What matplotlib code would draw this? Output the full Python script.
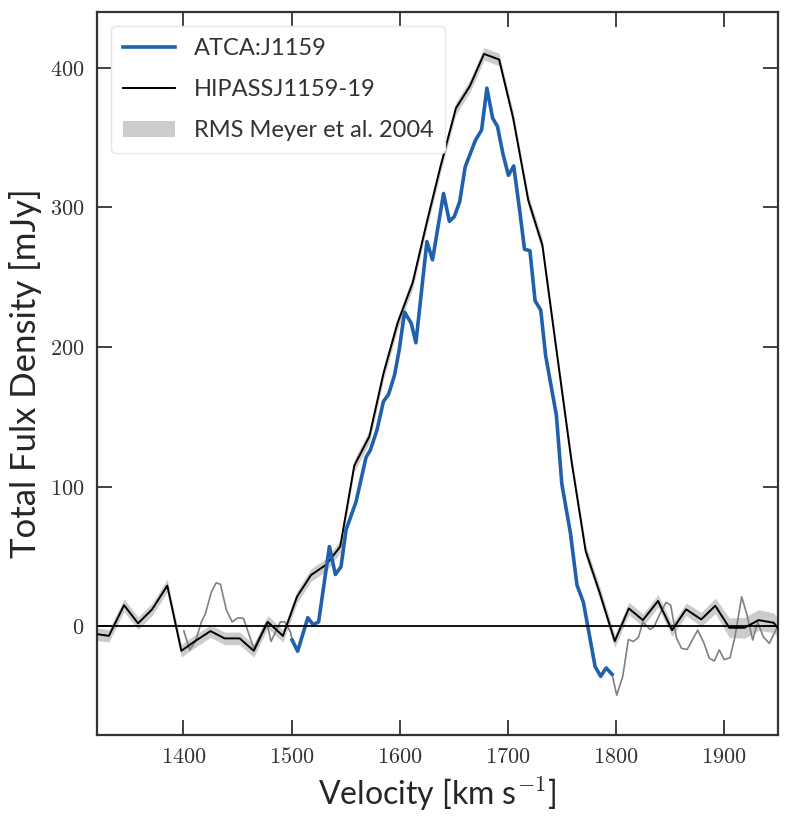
import matplotlib
matplotlib.use('Agg')
import matplotlib.pyplot as plt
import numpy as np

# HIPASS J1159-19 spectrum (velocity km/s, flux mJy)
hipass_vel = [1318, 1331, 1345, 1358, 1371, 1385, 1398, 1411, 1425, 1438,
              1452, 1465, 1478, 1492, 1505, 1518, 1532, 1545, 1558, 1572,
              1585, 1598, 1612, 1625, 1638, 1652, 1665, 1678, 1692, 1705,
              1719, 1732, 1745, 1759, 1772, 1785, 1799, 1812, 1825, 1839,
              1852, 1865, 1879, 1892, 1905, 1919, 1932, 1946, 1959]
hipass_flux = [-5.5, -7, 15, 2, 12, 29, -17.7, -10.6, -3.6, -8.8,
               -8.8, -17.7, 3, -7, 21, 36.6, 44, 57, 115, 136,
               181, 217, 246, 289, 330, 371, 387, 410, 406, 364,
               305, 273, 198, 118, 54, 24, -10.8, 12.7, 4.3, 18,
               -2.9, 12, 4.8, 14.6, -1.2, -1.2, 4.3, 2.4, -10]
hipass_rms = [4.5, 4.5, 4.5, 4.5, 4.5, 4.5, 4.5, 4.5, 4.5, 4.5,
              4.5, 4.5, 4.5, 4.5, 4.5, 4.5, 4.5, 4.5, 4.5, 4.5,
              4.5, 4.5, 4.5, 4.5, 4.5, 4.5, 4.5, 4.5, 4.5, 4.5,
              4.5, 4.5, 4.5, 4.5, 4.5, 4.5, 4.5, 4.5, 4.5, 4.5,
              4.5, 4.5, 5, 5.5, 7, 7.5, 7.5, 7, 6]

# ATCA J1159 spectrum inside the emission window
atca_vel = [1500.5, 1505.6, 1515, 1520, 1525, 1535, 1540.5, 1545.7, 1550.4,
            1559.6, 1568.9, 1572.8, 1579, 1585, 1589.7, 1595.3, 1599.6,
            1604.5, 1610.7, 1615, 1625.2, 1630.4, 1640.6, 1646, 1650.5,
            1655.5, 1660.6, 1670, 1675.8, 1680.7, 1686, 1690.5, 1695.5,
            1700.6, 1705.5, 1711, 1715.5, 1720.5, 1725.3, 1730.5, 1735,
            1745, 1750, 1758, 1764, 1770, 1780.8, 1786, 1791, 1796.5]
atca_flux = [-10, -18, 6, 1, 3, 57, 37, 42.5, 69,
             89, 121, 126, 140.5, 161, 166, 180, 198,
             225, 217, 203, 275.5, 262.4, 310, 290, 293.4,
             304, 329, 348, 355.5, 385.5, 364, 358, 338.5,
             323, 329.7, 298, 270, 269, 233, 226.5, 194,
             151, 102, 66.5, 29.5, 17, -29, -36, -30, -34.5]

# ATCA outside the emission window (grey)
atca_lo_vel = [1400.3, 1405.8, 1411, 1416.6, 1420.3, 1425.9, 1430.2, 1434.2,
               1439.7, 1445, 1450.5, 1455.5, 1465, 1477, 1481, 1489.6,
               1493.6, 1498.9, 1500.5]
atca_lo_flux = [-3.4, -17, -11, 3, 9, 24.6, 31, 30,
                11.5, 3, 6, 5.5, -16, 3, -11, 3,
                3, -4, -10]
atca_hi_vel = [1796.5, 1800.8, 1806.4, 1811.6, 1816.2, 1820.9, 1825, 1831.6,
               1835.3, 1840.9, 1846.4, 1850.7, 1856.3, 1860.9, 1866, 1870.7,
               1875.7, 1880.9, 1886.5, 1891.1, 1895.7, 1900.3, 1905.6, 1910.2,
               1916.4, 1921, 1926.6, 1931.2, 1936.4, 1942, 1947.2, 1952]
atca_hi_flux = [-34.5, -49.5, -36, -9.6, -11, -8, 3, -2.4,
                -0.5, 9, 17, 15, -9, -16, -16.7, -10,
                -2.9, -11, -23, -25, -17, -24, -22.7, -7.6,
                21, 9, -10, 3, -7.6, -12.4, -4, 3]

plt.rcParams['mathtext.fontset'] = 'cm'
plt.rcParams['font.family'] = ['Lato', 'DejaVu Sans']

fig = plt.figure(figsize=(7.9, 8.3), dpi=100)
ax = fig.add_axes([0.1228, 0.1145, 0.862, 0.871])

hv = np.array(hipass_vel)
hf = np.array(hipass_flux)
hr = np.array(hipass_rms)

ax.fill_between(hv, hf - hr, hf + hr, color='#cccccc', lw=0,
                label='RMS Meyer et al. 2004', zorder=1)
ax.plot(atca_lo_vel, atca_lo_flux, color='#808080', lw=1.2, zorder=2)
ax.plot(atca_hi_vel, atca_hi_flux, color='#808080', lw=1.2, zorder=2)
ax.plot(atca_vel, atca_flux, color='#2160ad', lw=2.6, label='ATCA:J1159', zorder=4)
ax.plot(hv, hf, color='black', lw=1.4, label='HIPASSJ1159-19', zorder=3)
ax.axhline(0, color='black', lw=1.3, zorder=5)

ax.set_xlim(1320, 1950)
ax.set_ylim(-78, 440)
ax.set_xticks([1400, 1500, 1600, 1700, 1800, 1900])
ax.set_yticks([0, 100, 200, 300, 400])
ax.xaxis.set_major_formatter(matplotlib.ticker.FuncFormatter(lambda v, p: r'$%d$' % v))
ax.yaxis.set_major_formatter(matplotlib.ticker.FuncFormatter(lambda v, p: r'$%d$' % v))

ax.tick_params(direction='in', length=11, width=1.3, top=True, right=True,
               labelsize=16, colors='#333333', pad=9)
for s in ax.spines.values():
    s.set_linewidth(1.6)
    s.set_color('#333333')

ax.set_xlabel(r'Velocity [km s$^{-1}$]', fontsize=23, color='#262626', labelpad=6)
ax.set_ylabel('Total Fulx Density [mJy]', fontsize=25, color='#262626', labelpad=6)

handles, labels = ax.get_legend_handles_labels()
order = [labels.index('ATCA:J1159'), labels.index('HIPASSJ1159-19'),
         labels.index('RMS Meyer et al. 2004')]
leg = ax.legend([handles[i] for i in order], [labels[i] for i in order],
                loc='upper left', fontsize=17, handlelength=2.2,
                labelspacing=0.85, borderpad=0.5, borderaxespad=0.6,
                framealpha=1, edgecolor='#e6e6e6')
for t in leg.get_texts():
    t.set_color('#333333')

fig.savefig('out.png', dpi=100)
